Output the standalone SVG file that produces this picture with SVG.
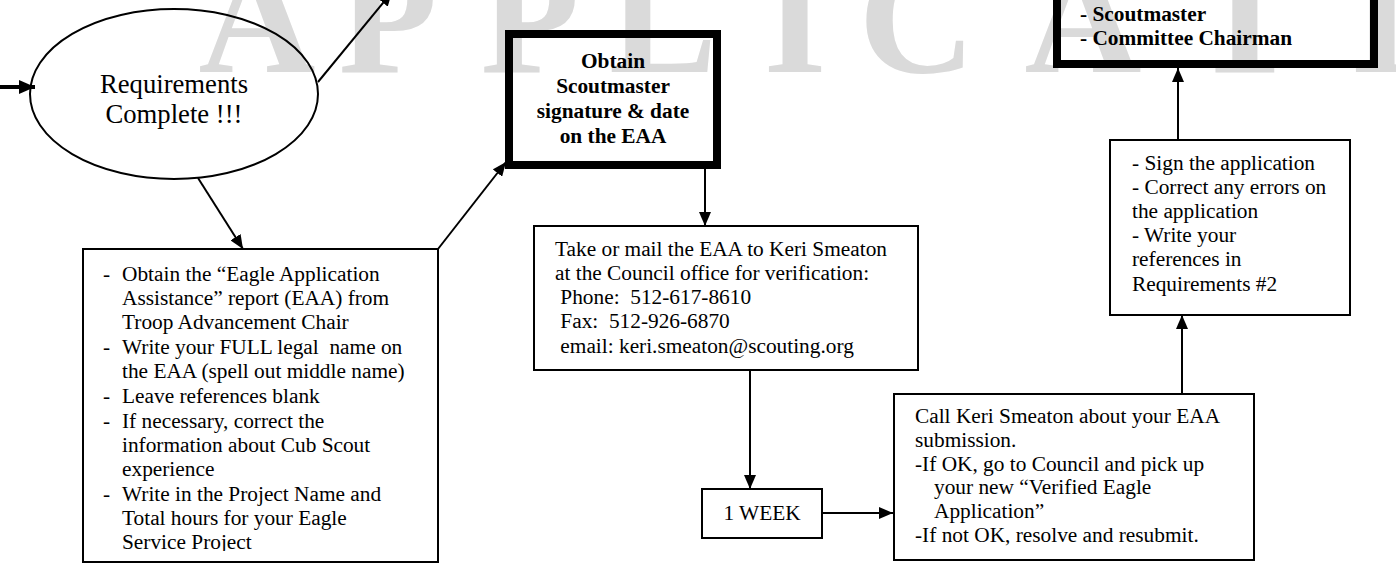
<svg xmlns="http://www.w3.org/2000/svg" width="1396" height="572" viewBox="0 0 1396 572">
<style>
.wm{font-family:"Liberation Serif","Times New Roman",serif;font-size:162px;font-weight:bold;fill:#dadada;text-anchor:middle}
.t{font-family:"Liberation Serif","Times New Roman",serif;font-size:21.33px;fill:#000;white-space:pre}
.b{font-family:"Liberation Serif","Times New Roman",serif;font-size:21.33px;font-weight:bold;fill:#000;white-space:pre}
.big{font-family:"Liberation Serif","Times New Roman",serif;font-size:26.67px;fill:#000;text-anchor:middle}
.box{fill:none;stroke:#000;stroke-width:2}
.thick{fill:none;stroke:#000;stroke-width:8}
.c{fill:none;stroke:#000;stroke-width:2}
</style>
<defs>
<marker id="ah" markerUnits="userSpaceOnUse" markerWidth="14" markerHeight="12" refX="14" refY="6" orient="auto">
<path d="M0,0 L14,6 L0,12 z" fill="#000"/>
</marker>
<marker id="ahb" markerUnits="userSpaceOnUse" markerWidth="16" markerHeight="14" refX="16" refY="7" orient="auto">
<path d="M0,0 L16,7 L0,14 z" fill="#000"/>
</marker>
<clipPath id="clipL"><rect x="84" y="251" width="352" height="300"/></clipPath>
</defs>
<rect width="1396" height="572" fill="#fff"/>
<g id="watermark">
<text class="wm" x="257" y="72">A</text>
<text class="wm" x="388" y="72">P</text>
<text class="wm" x="530" y="72">P</text>
<text class="wm" x="663" y="72">L</text>
<text class="wm" x="795" y="72">I</text>
<text class="wm" x="917" y="72">C</text>
<text class="wm" x="1083" y="72">A</text>
<text class="wm" x="1245" y="72">T</text>
<text class="wm" x="1382" y="72">I</text>
</g>
<g id="connectors">
<line class="c" x1="0" y1="87" x2="35" y2="87" marker-end="url(#ahb)" style="stroke-width:4"/>
<line class="c" x1="318" y1="82" x2="392" y2="-8" marker-end="url(#ah)"/>
<line class="c" x1="198" y1="178" x2="243" y2="249" marker-end="url(#ah)"/>
<line class="c" x1="438" y1="249" x2="506" y2="162" marker-end="url(#ah)"/>
<line class="c" x1="705" y1="169" x2="705" y2="226" marker-end="url(#ah)"/>
<line class="c" x1="750" y1="370" x2="750" y2="489" marker-end="url(#ah)"/>
<line class="c" x1="822" y1="513" x2="893" y2="513" marker-end="url(#ah)"/>
<line class="c" x1="1182" y1="394" x2="1182" y2="315" marker-end="url(#ah)"/>
<line class="c" x1="1178" y1="140" x2="1178" y2="68" marker-end="url(#ah)"/>
</g>
<g id="n-complete">
<ellipse class="box" cx="174" cy="94" rx="144" ry="85"/>
<text class="big" x="174" y="93">Requirements</text>
<text class="big" x="174" y="123">Complete !!!</text>
</g>
<g id="n-obtain-eaa">
<rect class="box" x="83" y="249" width="355" height="313"/>
<g clip-path="url(#clipL)">
<text class="t" x="103" y="281">-</text><text class="t" x="122" y="281">Obtain the “Eagle Application</text>
<text class="t" x="122" y="305">Assistance” report (EAA) from</text>
<text class="t" x="122" y="329">Troop Advancement Chair</text>
<text class="t" x="103" y="354">-</text><text class="t" x="122" y="354">Write your FULL legal  name on</text>
<text class="t" x="122" y="378">the EAA (spell out middle name)</text>
<text class="t" x="103" y="403">-</text><text class="t" x="122" y="403">Leave references blank</text>
<text class="t" x="103" y="428">-</text><text class="t" x="122" y="428">If necessary, correct the</text>
<text class="t" x="122" y="452">information about Cub Scout</text>
<text class="t" x="122" y="476">experience</text>
<text class="t" x="103" y="501">-</text><text class="t" x="122" y="501">Write in the Project Name and</text>
<text class="t" x="122" y="525">Total hours for your Eagle</text>
<text class="t" x="122" y="549">Service Project</text>
</g>
</g>
<g id="n-sm-signature">
<rect class="thick" x="509" y="34" width="208" height="131"/>
<text class="b" x="613" y="68" text-anchor="middle">Obtain</text>
<text class="b" x="613" y="93" text-anchor="middle">Scoutmaster</text>
<text class="b" x="613" y="118" text-anchor="middle">signature &amp; date</text>
<text class="b" x="613" y="143" text-anchor="middle">on the EAA</text>
</g>
<g id="n-mail">
<rect class="box" x="534" y="226" width="384" height="144"/>
<text class="t" x="555" y="256">Take or mail the EAA to Keri Smeaton</text>
<text class="t" x="555" y="280">at the Council office for verification:</text>
<text class="t" x="555" y="304"> Phone:  512-617-8610</text>
<text class="t" x="555" y="328"> Fax:  512-926-6870</text>
<text class="t" x="555" y="353"> email: keri.smeaton@scouting.org</text>
</g>
<g id="n-week">
<rect class="box" x="702" y="489" width="120" height="49"/>
<text class="t" x="762" y="520" text-anchor="middle">1 WEEK</text>
</g>
<g id="n-call">
<rect class="box" x="894" y="394" width="360" height="166"/>
<text class="t" x="915" y="423">Call Keri Smeaton about your EAA</text>
<text class="t" x="915" y="447">submission.</text>
<text class="t" x="915" y="471">-If OK, go to Council and pick up</text>
<text class="t" x="934" y="494">your new “Verified Eagle</text>
<text class="t" x="934" y="518">Application”</text>
<text class="t" x="915" y="542">-If not OK, resolve and resubmit.</text>
</g>
<g id="n-sign">
<rect class="box" x="1110" y="140" width="240" height="175"/>
<text class="t" x="1132" y="170">- Sign the application</text>
<text class="t" x="1132" y="194">- Correct any errors on</text>
<text class="t" x="1132" y="218">the application</text>
<text class="t" x="1132" y="242">- Write your</text>
<text class="t" x="1132" y="266">references in</text>
<text class="t" x="1132" y="291">Requirements #2</text>
</g>
<g id="n-signatures">
<rect class="thick" x="1057" y="-100" width="317" height="164"/>
<text class="b" x="1080" y="21">- Scoutmaster</text>
<text class="b" x="1080" y="45">- Committee Chairman</text>
</g>
</svg>
